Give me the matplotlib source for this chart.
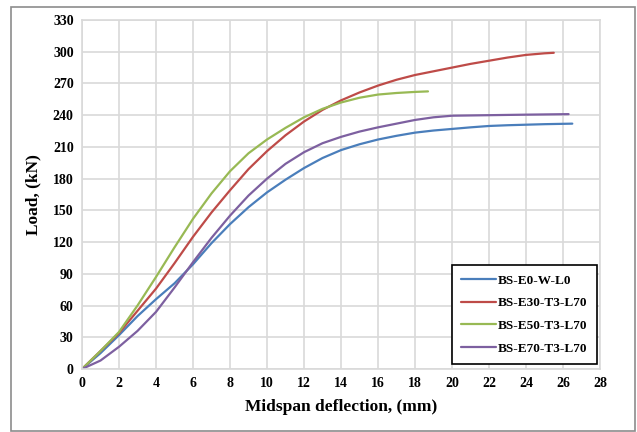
import matplotlib
matplotlib.use("Agg")
import matplotlib.pyplot as plt
from matplotlib.patches import Rectangle

plt.rcParams['font.family'] = ['Liberation Serif', 'DejaVu Serif']
plt.rcParams['font.weight'] = 'bold'

labels = ["BS-E0-W-L0", "BS-E30-T3-L70", "BS-E50-T3-L70", "BS-E70-T3-L70"]
colors = ["#4a7ebb", "#be4b48", "#98b954", "#7d60a0"]

x_e0 = [0, 1, 2, 3, 4, 5, 6, 7, 8, 9, 10, 11, 12, 13, 14, 15, 16, 17, 18, 19, 20, 21, 22, 23, 24, 25, 26.5]
y_e0 = [0, 15, 32, 50, 66, 81, 99, 119, 137, 153, 167, 179, 190, 199.5, 207, 212.5, 217, 220.5, 223.5, 225.5,
        227, 228.5, 229.8, 230.5, 231, 231.5, 232]

x_e30 = [0, 1, 2, 3, 4, 5, 6, 7, 8, 9, 10, 11, 12, 13, 14, 15, 16, 17, 18, 19, 20, 21, 22, 23, 24, 25, 25.5]
y_e30 = [0, 17, 34, 55, 76, 100, 125, 148, 169, 189, 206, 221, 234, 245, 254, 261.5, 268, 273.5, 278, 281.5,
         285, 288.5, 291.5, 294.5, 297, 298.5, 299]

x_e50 = [0, 1, 2, 3, 4, 5, 6, 7, 8, 9, 10, 11, 12, 13, 14, 15, 16, 17, 18, 18.7]
y_e50 = [0, 17, 35, 60, 87, 115, 142, 166, 187, 204, 217, 228, 238, 246, 252, 256.5, 259.5, 261, 262, 262.5]

x_e70 = [0, 1, 2, 3, 4, 5, 6, 7, 8, 9, 10, 11, 12, 13, 14, 15, 16, 17, 18, 19, 20, 22, 24, 26.3]
y_e70 = [0, 8, 21, 36, 54, 77, 101, 124, 145, 164, 180, 194, 205, 213.5, 219.5, 224.5, 228.5, 232, 235.5, 238,
         239.5, 240, 240.5, 241]

series = [(x_e0, y_e0), (x_e30, y_e30), (x_e50, y_e50), (x_e70, y_e70)]

xticks = list(range(0, 29, 2))
yticks = list(range(0, 331, 30))

fig = plt.figure(figsize=(6.37, 4.32), dpi=100)
ax = fig.add_axes([0.1287, 0.1458, 0.8133, 0.8079])

for (xs, ys), c, lab in zip(series, colors, labels):
    ax.plot(xs, ys, color=c, lw=1.6, label=lab, solid_capstyle='round', solid_joinstyle='round')

ax.set_xlim(0, 28)
ax.set_ylim(0, 330)
ax.set_xticks(xticks)
ax.set_yticks(yticks)
ax.grid(True, color="#d9d9d9", lw=1.2)
ax.set_axisbelow(True)
for s in ax.spines.values():
    s.set_color("#d9d9d9")
    s.set_linewidth(1.2)
ax.tick_params(length=0, labelsize=10, pad=6)
for t in ax.get_xticklabels() + ax.get_yticklabels():
    t.set_fontweight('bold')

ax.set_xlabel("Midspan deflection, (mm)", fontsize=12.5, fontweight='bold', labelpad=6)
ax.set_ylabel("Load, (kN)", fontsize=12.5, fontweight='bold', labelpad=8)

leg = ax.legend(loc='lower right', bbox_to_anchor=(0.994, 0.014), borderaxespad=0,
                frameon=True, fancybox=False, edgecolor='black', framealpha=1,
                handlelength=2.6, handletextpad=0.2, labelspacing=0.8,
                borderpad=0.7, prop={'weight': 'bold', 'size': 9.5})
leg.get_frame().set_linewidth(1.2)

fig.patches.append(Rectangle((0.017, 0.003), 0.98, 0.981, transform=fig.transFigure,
                             fill=False, edgecolor="#8c8c8c", lw=1.2))

fig.savefig("out.png", dpi=100)
